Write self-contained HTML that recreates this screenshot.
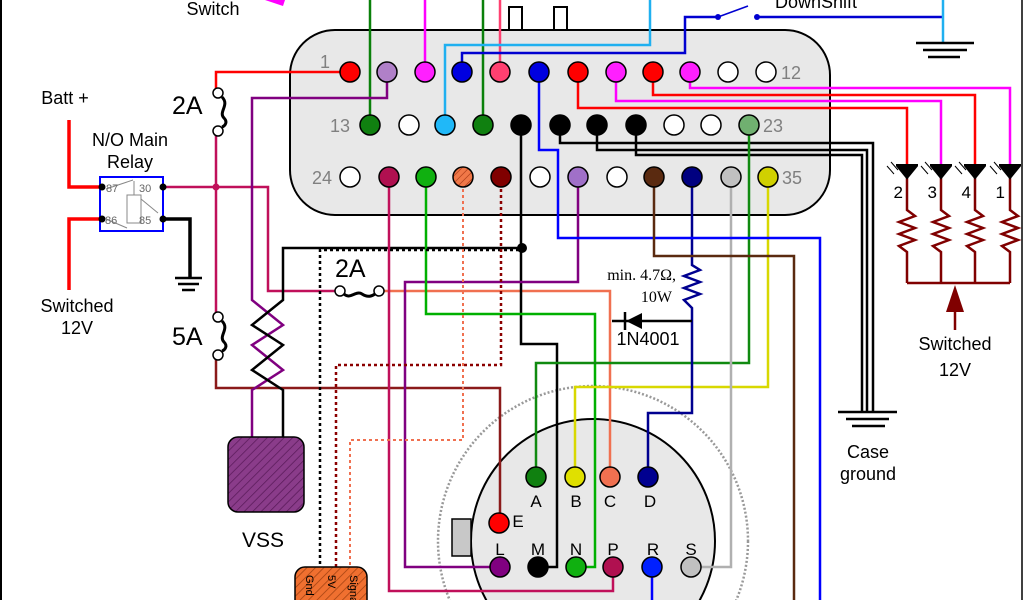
<!DOCTYPE html>
<html><head><meta charset="utf-8"><style>
html,body{margin:0;padding:0;background:#fff;width:1024px;height:600px;overflow:hidden;}
svg{display:block;font-family:"Liberation Sans",sans-serif;}
</style></head><body>
<svg width="1024" height="600" viewBox="0 0 1024 600" xmlns="http://www.w3.org/2000/svg">
<defs>
<pattern id="hp" width="6" height="6" patternUnits="userSpaceOnUse" patternTransform="rotate(45)">
<rect width="6" height="6" fill="#8a3c8a"/><line x1="0" y1="0" x2="0" y2="6" stroke="#5a1a5a" stroke-width="1.5"/></pattern>
<pattern id="ho" width="6" height="6" patternUnits="userSpaceOnUse" patternTransform="rotate(45)">
<rect width="6" height="6" fill="#f07030"/><line x1="0" y1="0" x2="0" y2="6" stroke="#a04010" stroke-width="1.5"/></pattern>
<pattern id="hs" width="5" height="5" patternUnits="userSpaceOnUse" patternTransform="rotate(45)">
<rect width="5" height="5" fill="#f07848"/><line x1="0" y1="0" x2="0" y2="5" stroke="#a03010" stroke-width="1.2"/></pattern>
</defs>
<rect width="1024" height="600" fill="#fff"/>
<line x1="1" y1="0" x2="1" y2="600" stroke="#000" stroke-width="2"/>
<line x1="1022" y1="0" x2="1022" y2="600" stroke="#000" stroke-width="1.5"/>

<circle cx="593" cy="541" r="155" fill="none" stroke="#999" stroke-width="2.5" stroke-dasharray="2,2"/>
<circle cx="593" cy="541" r="122" fill="#e8e8e8" stroke="#000" stroke-width="2"/>
<rect x="452" y="519" width="19" height="37" fill="#c8c8c8" stroke="#000" stroke-width="1.5"/>

<rect x="509" y="7" width="13" height="25" fill="#fff" stroke="#000" stroke-width="2"/>
<rect x="554" y="7" width="13" height="25" fill="#fff" stroke="#000" stroke-width="2"/>
<rect x="290" y="30" width="540" height="185" rx="45" fill="#e8e8e8" stroke="#000" stroke-width="2"/>

<g fill="none" stroke-width="2.5" stroke-linejoin="miter">
<polyline points="370,125 370,0" stroke="#0a800a"/>
<polyline points="483,125 483,0" stroke="#0a800a"/>
<polyline points="425,72 425,0" stroke="#ff00ff"/>
<polyline points="500,72 500,0" stroke="#ff4070"/>
<polyline points="445,125 445,45 650,45 650,0" stroke="#20b0f0"/>
<polyline points="462,72 462,53 685,53 685,17 718,17" stroke="#0000d0"/>
<polyline points="757,17 943,17" stroke="#0000d0"/>
<line x1="718" y1="17" x2="748" y2="6" stroke="#0000d0" stroke-width="1.5"/>
<polyline points="943,0 943,43" stroke="#20b0f0"/>
<polyline points="578,72 578,108 907,108 907,165" stroke="#ff0000"/>
<polyline points="616,72 616,101 941,101 941,165" stroke="#ff00ff"/>
<polyline points="653,72 653,95 975,95 975,165" stroke="#ff0000"/>
<polyline points="690,72 690,88 1010,88 1010,165" stroke="#ff00ff"/>
<polyline points="560,125 560,143 873,143 873,412" stroke="#000"/>
<polyline points="597,125 597,150 867,150 867,412" stroke="#000"/>
<polyline points="636,125 636,155 862,155 862,412" stroke="#000"/>
<polyline points="350,72 216,72 216,93" stroke="#ff0000"/>
<polyline points="216,132 216,317" stroke="#c0105a"/>
<polyline points="163,187 268,187 268,291 340,291" stroke="#c0105a"/>
<polyline points="216,355 216,388 500,388 500,520" stroke="#8b1a1a"/>
<polyline points="69,120 69,187 102,187" stroke="#ff0000" stroke-width="3.5"/>
<polyline points="69,290 69,219 102,219" stroke="#ff0000" stroke-width="3.5"/>
<polyline points="163,219 190,219 190,278" stroke="#000" stroke-width="3.5"/>
<polyline points="387,72 387,98 252,98 252,300 283,325 252,345 283,370 252,390 252,437" stroke="#800080"/>
<polyline points="522,248 283,248 283,300 252,325 283,345 252,370 283,390 283,437" stroke="#000"/>
<polyline points="379,291 610,291 610,477" stroke="#f07050"/>
<polyline points="521,125 521,344 557,344 557,567 538,567" stroke="#000"/>
<polyline points="578,177 578,282 405,282 405,567 500,567" stroke="#800080"/>
<polyline points="426,177 426,314 595,314 595,567 576,567" stroke="#00b000"/>
<polyline points="389,177 389,591 613,591 613,567" stroke="#c0105a"/>
<polyline points="749,125 749,363 536,363 536,477" stroke="#108a10"/>
<polyline points="768,177 768,387 575,387 575,477" stroke="#d8d800"/>
<polyline points="692,177 692,265 700,270 684,276 700,282 684,288 700,294 684,300 692,308 692,413 648,413 648,477" stroke="#000090"/>
<polyline points="731,177 731,567 691,567" stroke="#b0b0b0"/>
<polyline points="539,72 539,150 558,150 558,238 820,238 820,600" stroke="#0000ff"/>
<polyline points="652,567 652,600" stroke="#0000ff"/>
<polyline points="654,177 654,256 794,256 794,600" stroke="#5a2a10"/>
<polyline points="612,321 692,321" stroke="#000"/>
<polyline points="320,600 320,250 520,250" stroke="#000" stroke-dasharray="3,3"/>
<polyline points="501,177 501,365 336,365 336,580" stroke="#8b0000" stroke-dasharray="3,3"/>
<polyline points="463,177 463,440 350,440 350,580" stroke="#f07050" stroke-dasharray="3,3" stroke-width="2"/>
<g stroke="#800000">
<polyline points="907,178 907,210 915,216 899,222 915,228 899,234 915,240 899,246 907,252 907,283"/>
<polyline points="941,178 941,210 949,216 933,222 949,228 933,234 949,240 933,246 941,252 941,283"/>
<polyline points="975,178 975,210 983,216 967,222 983,228 967,234 983,240 967,246 975,252 975,283"/>
<polyline points="1010,178 1010,210 1018,216 1002,222 1018,228 1002,234 1018,240 1002,246 1010,252 1010,283"/>
<polyline points="907,283 1010,283"/>
<polyline points="955,330 955,305"/>
</g>
</g>
<polygon points="955,285 946,312 964,312" fill="#800000"/>

<g fill="#000" stroke="#000" stroke-width="2">
<line x1="896" y1="165" x2="918" y2="165"/><polygon points="898,167 916,167 907,178"/>
<line x1="930" y1="165" x2="952" y2="165"/><polygon points="932,167 950,167 941,178"/>
<line x1="964" y1="165" x2="986" y2="165"/><polygon points="966,167 984,167 975,178"/>
<line x1="999" y1="165" x2="1021" y2="165"/><polygon points="1001,167 1019,167 1010,178"/>
</g>
<g stroke="#000" stroke-width="1" fill="none">
<path d="M898 170 l-7 -8 M894 174 l-7 -8"/><path d="M932 170 l-7 -8 M928 174 l-7 -8"/>
<path d="M966 170 l-7 -8 M962 174 l-7 -8"/><path d="M1001 170 l-7 -8 M997 174 l-7 -8"/>
</g>

<g stroke="#000" stroke-width="2.5">
<line x1="838" y1="412" x2="897" y2="412"/><line x1="846" y1="419" x2="889" y2="419"/><line x1="852" y1="426" x2="885" y2="426"/>
<line x1="916" y1="43" x2="974" y2="43"/><line x1="923" y1="50" x2="967" y2="50"/><line x1="928" y1="57" x2="960" y2="57"/>
<line x1="175" y1="278" x2="202" y2="278"/><line x1="178" y1="284" x2="199" y2="284"/><line x1="182" y1="290" x2="195" y2="290"/>
</g>
<circle cx="718" cy="17" r="3" fill="#0000d0"/><circle cx="757" cy="17" r="3" fill="#0000d0"/>

<polygon points="626,321 642,313 642,329" fill="#000"/>
<line x1="625" y1="312" x2="625" y2="330" stroke="#000" stroke-width="2.5"/>

<g fill="#fff" stroke="#000" stroke-width="1.5">
<circle cx="218" cy="93" r="5"/><circle cx="218" cy="131" r="5"/>
<circle cx="218" cy="317" r="5"/><circle cx="218" cy="355" r="5"/>
<circle cx="340" cy="291" r="5"/><circle cx="379" cy="291" r="5"/>
</g>
<g fill="none" stroke="#000" stroke-width="3">
<path d="M222 97 C230 105 218 112 224 118 C228 122 225 126 222 127"/>
<path d="M222 321 C230 329 218 336 224 342 C228 346 225 350 222 351"/>
<path d="M344 294 C350 300 356 290 362 294 C368 298 372 296 375 294"/>
</g>

<rect x="100" y="177" width="63" height="54" fill="#fff" stroke="#0000ff" stroke-width="2"/>
<rect x="127" y="195" width="14" height="28" fill="none" stroke="#888" stroke-width="1"/>
<path d="M106 189 L133 180 M134 181 L134 195 M106 219 L127 228 M141 199 L158 213" stroke="#888" stroke-width="1" fill="none"/>
<g font-size="11" fill="#666"><text x="106" y="192">87</text><text x="139" y="192">30</text><text x="105" y="224">86</text><text x="139" y="224">85</text></g>
<g fill="#000"><circle cx="102" cy="187" r="3.5"/><circle cx="163" cy="187" r="3.5"/><circle cx="102" cy="219" r="3.5"/><circle cx="163" cy="219" r="3.5"/></g>
<circle cx="216" cy="187" r="3.5" fill="#c0105a"/>
<circle cx="522" cy="248" r="5" fill="#000"/>

<rect x="228" y="437" width="76" height="75" rx="10" fill="url(#hp)" stroke="#000" stroke-width="1.5"/>
<rect x="295" y="567" width="72" height="50" rx="10" fill="url(#ho)" stroke="#000" stroke-width="1.5"/>
<g font-size="11" fill="#000">
<text transform="translate(306,575) rotate(90)">Gnd</text>
<text transform="translate(328,575) rotate(90)">5V</text>
<text transform="translate(350,575) rotate(90)">Signal</text>
</g>

<g stroke="#000" stroke-width="1.5">
<circle cx="350" cy="72" r="10" fill="#ff0000"/><circle cx="387" cy="72" r="10" fill="#b080c8"/>
<circle cx="425" cy="72" r="10" fill="#ff20ff"/><circle cx="462" cy="72" r="10" fill="#0000e0"/>
<circle cx="500" cy="72" r="10" fill="#ff4070"/><circle cx="539" cy="72" r="10" fill="#0000e0"/>
<circle cx="578" cy="72" r="10" fill="#ff0000"/><circle cx="616" cy="72" r="10" fill="#ff20ff"/>
<circle cx="653" cy="72" r="10" fill="#ff0000"/><circle cx="690" cy="72" r="10" fill="#ff20ff"/>
<circle cx="728" cy="72" r="10" fill="#fff"/><circle cx="766" cy="72" r="10" fill="#fff"/>
<circle cx="370" cy="125" r="10" fill="#108010"/><circle cx="409" cy="125" r="10" fill="#fff"/>
<circle cx="445" cy="125" r="10" fill="#20b8f8"/><circle cx="483" cy="125" r="10" fill="#108010"/>
<circle cx="521" cy="125" r="10" fill="#000"/><circle cx="560" cy="125" r="10" fill="#000"/>
<circle cx="597" cy="125" r="10" fill="#000"/><circle cx="636" cy="125" r="10" fill="#000"/>
<circle cx="674" cy="125" r="10" fill="#fff"/><circle cx="711" cy="125" r="10" fill="#fff"/>
<circle cx="749" cy="125" r="10" fill="#70b070"/>
<circle cx="350" cy="177" r="10" fill="#fff"/><circle cx="389" cy="177" r="10" fill="#b01050"/>
<circle cx="426" cy="177" r="10" fill="#10b010"/><circle cx="463" cy="177" r="10" fill="url(#hs)"/>
<circle cx="501" cy="177" r="10" fill="#800000"/><circle cx="540" cy="177" r="10" fill="#fff"/>
<circle cx="578" cy="177" r="10" fill="#a070c8"/><circle cx="617" cy="177" r="10" fill="#fff"/>
<circle cx="654" cy="177" r="10" fill="#5a2a10"/><circle cx="692" cy="177" r="10" fill="#000080"/>
<circle cx="731" cy="177" r="10" fill="#c0c0c0"/><circle cx="768" cy="177" r="10" fill="#d0d000"/>
<circle cx="536" cy="477" r="10" fill="#108010"/><circle cx="575" cy="477" r="10" fill="#e0e000"/>
<circle cx="610" cy="477" r="10" fill="#f07050"/><circle cx="648" cy="477" r="10" fill="#000090"/>
<circle cx="499" cy="523" r="10" fill="#ff0000"/>
<circle cx="500" cy="567" r="10" fill="#800080"/><circle cx="538" cy="567" r="10" fill="#000"/>
<circle cx="576" cy="567" r="10" fill="#10b010"/><circle cx="613" cy="567" r="10" fill="#b01050"/>
<circle cx="652" cy="567" r="10" fill="#0020ff"/><circle cx="691" cy="567" r="10" fill="#c0c0c0"/>
</g>

<g font-size="18" fill="#808080">
<text x="320" y="68">1</text><text x="781" y="79">12</text>
<text x="330" y="132">13</text><text x="763" y="132">23</text>
<text x="312" y="184">24</text><text x="782" y="184">35</text>
</g>
<g font-size="17" fill="#000" text-anchor="middle">
<text x="536" y="507">A</text><text x="576" y="507">B</text><text x="610" y="507">C</text><text x="650" y="507">D</text>
<text x="500" y="555">L</text><text x="538" y="555">M</text><text x="576" y="555">N</text><text x="613" y="555">P</text><text x="653" y="555">R</text><text x="691" y="555">S</text>
<text x="518" y="527">E</text>
</g>
<g font-size="17" fill="#000">
<text x="903" y="198" text-anchor="end">2</text><text x="937" y="198" text-anchor="end">3</text><text x="971" y="198" text-anchor="end">4</text><text x="1005" y="198" text-anchor="end">1</text>
</g>
<g font-size="18" fill="#000" text-anchor="middle">
<text x="65" y="104">Batt +</text>
<text x="130" y="146">N/O Main</text><text x="130" y="168">Relay</text>
<text x="77" y="312">Switched</text><text x="77" y="334">12V</text>
<text x="955" y="350">Switched</text><text x="955" y="376">12V</text>
<text x="868" y="458">Case</text><text x="868" y="480">ground</text>
<text x="213" y="15">Switch</text>
<text x="263" y="547" font-size="21">VSS</text>
<text x="648" y="345">1N4001</text>
</g>
<text x="816" y="8" font-size="18" fill="#000" text-anchor="middle">DownShift</text>
<g font-size="25" fill="#000">
<text x="172" y="114">2A</text><text x="172" y="345">5A</text><text x="335" y="277">2A</text>
</g>
<g font-family="Liberation Serif,serif" font-size="16" fill="#000" text-anchor="end">
<text x="676" y="280">min. 4.7Ω,</text><text x="672" y="302">10W</text>
</g>
<polygon points="265,0 285,0 283,6" fill="#ff00ff"/>
</svg>
</body></html>
